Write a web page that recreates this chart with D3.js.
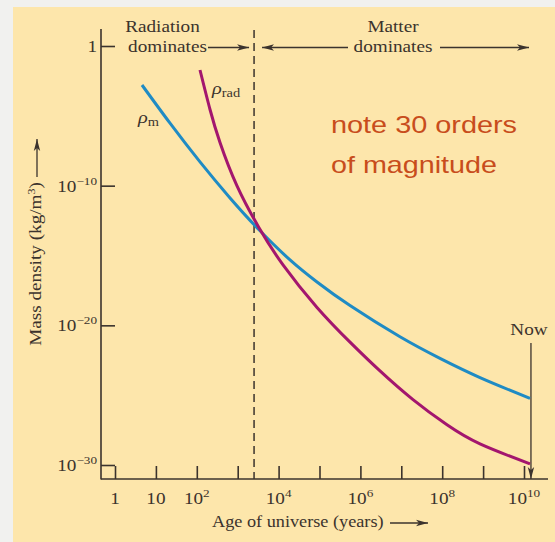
<!DOCTYPE html>
<html>
<head>
<meta charset="utf-8">
<script src="https://cdn.jsdelivr.net/npm/d3@7"></script>
<style>
  body { margin: 0; background: #f1f1ef; }
  svg { display: block; }
</style>
</head>
<body>
<svg id="chart" width="555" height="542"></svg>
<script>
// values, as log10 of age (years) and log10 of density (kg/m^3)
var matterAge = [0.66, 1.345, 2.078, 2.812, 3.521, 4.279, 4.939, 5.746, 6.968, 7.946, 8.924, 10.147];
var matterRho = [-2.792, -5.527, -8.298, -10.876, -13.16, -15.315, -16.897, -18.587, -20.82, -22.367, -23.742, -25.231];
var radAge = [2.078, 2.323, 2.567, 2.983, 3.521, 4.108, 4.939, 5.746, 6.479, 7.286, 8.117, 8.924, 10.147];
var radRho = [-1.718, -4.546, -6.909, -10.016, -13.009, -15.673, -18.716, -21.2, -23.262, -25.317, -27.121, -28.489, -29.92];

var xTickExp = [0, 1, 2, 3, 4, 5, 6, 7, 8, 9, 10];
var xLabelExp = [0, 1, 2, 4, 6, 8, 10];
var yTickExp = [0, -10, -20, -30];
var equalityAge = 3.4;   // log10 years, dashed line
var nowAge = 10.17;      // log10 years, "Now" arrow

var ink = "#3b332d";
var blue = "#1f8bc4";
var magenta = "#a3166e";
var serif = "'Liberation Serif', 'DejaVu Serif', serif";

var svg = d3.select("#chart");

// panel
svg.append("rect")
  .attr("x", 13).attr("y", 7)
  .attr("width", 555 - 13).attr("height", 542 - 7)
  .style("fill", "#fde6ab");

var defs = svg.append("defs");
defs.append("marker")
  .attr("id", "arrow")
  .attr("viewBox", "0 0 12 8")
  .attr("refX", 12).attr("refY", 4)
  .attr("markerWidth", 12).attr("markerHeight", 8)
  .attr("markerUnits", "userSpaceOnUse")
  .attr("orient", "auto")
  .append("path")
  .attr("d", "M0,0.8 L12,4 L0,7.2 L3,4 Z")
  .style("fill", ink);

var x = d3.scaleLog().domain([1, 1e10]).range([115, 524]);
var y = d3.scaleLog().domain([1e-30, 1]).range([465, 46]);
function pow10(e) { return Math.pow(10, e); }

var axisX0 = 101, axisY0 = 479;

// axis lines
svg.append("line")
  .attr("x1", axisX0).attr("x2", axisX0)
  .attr("y1", 29).attr("y2", axisY0 + 0.5)
  .style("stroke", ink).style("stroke-width", 1.6);
svg.append("line")
  .attr("x1", axisX0).attr("x2", 548)
  .attr("y1", axisY0).attr("y2", axisY0)
  .style("stroke", ink).style("stroke-width", 1.6);

// ticks through d3 axes
var gx = svg.append("g")
  .attr("transform", "translate(0," + axisY0 + ")")
  .call(d3.axisTop(x).tickValues(xTickExp.map(pow10)).tickSize(13).tickFormat(""));
var gy = svg.append("g")
  .attr("transform", "translate(" + axisX0 + ",0)")
  .call(d3.axisRight(y).tickValues(yTickExp.map(pow10)).tickSize(14).tickFormat(""));
[gx, gy].forEach(function(g) {
  g.select(".domain").remove();
  g.selectAll(".tick line").style("stroke", ink).style("stroke-width", 1.6);
});

// text helper: the figure's type is wider than the installed fonts, so stretch it
function label(px, py, anchor, size, rot) {
  var g = svg.append("g")
    .attr("transform", "translate(" + px + "," + py + ")" + (rot ? " rotate(" + rot + ")" : "") + " scale(1.2,1)");
  return g.append("text")
    .attr("text-anchor", anchor)
    .style("font-family", serif)
    .style("font-size", size + "px")
    .style("fill", ink);
}

function powLabel(t, e) {
  if (e === 0) { t.text("1"); return; }
  t.append("tspan").text("10");
  if (e !== 1) {
    t.append("tspan")
      .attr("dy", -7)
      .style("font-size", "11px")
      .text(String(e).replace("-", "\u2212"));
  }
}

xLabelExp.forEach(function(e) {
  powLabel(label(x(pow10(e)), 504, "middle", 16), e);
});
yTickExp.forEach(function(e) {
  powLabel(label(97, y(pow10(e)) + 6, "end", 16), e);
});

// axis titles
label(212, 527, "start", 16).text("Age of universe (years)").attr("textLength", 143).attr("lengthAdjust", "spacingAndGlyphs");
svg.append("line")
  .attr("x1", 390).attr("x2", 428).attr("y1", 523).attr("y2", 523)
  .style("stroke", ink).style("stroke-width", 1.3)
  .attr("marker-end", "url(#arrow)");

var yt = label(41, 264, "middle", 16, -90);
yt.append("tspan").text("Mass density (kg/m");
yt.append("tspan").attr("dy", -6).style("font-size", "10px").text("3");
yt.append("tspan").attr("dy", 6).text(")");
svg.append("line")
  .attr("x1", 37).attr("x2", 37).attr("y1", 177).attr("y2", 139)
  .style("stroke", ink).style("stroke-width", 1.3)
  .attr("marker-end", "url(#arrow)");

// radiation / matter eras
var xEq = x(pow10(equalityAge));
svg.append("line")
  .attr("x1", xEq).attr("x2", xEq).attr("y1", 30).attr("y2", axisY0)
  .style("stroke", ink).style("stroke-width", 1.5)
  .style("stroke-dasharray", "8,5");

label(162.5, 32, "middle", 16).text("Radiation");
label(167.5, 52, "middle", 16).text("dominates");
label(393, 32, "middle", 16).text("Matter");
label(393, 52, "middle", 16).text("dominates");

function arrow(x1, y1, x2, y2) {
  svg.append("line")
    .attr("x1", x1).attr("y1", y1).attr("x2", x2).attr("y2", y2)
    .style("stroke", ink).style("stroke-width", 1.3)
    .attr("marker-end", "url(#arrow)");
}
arrow(208, 47.5, xEq - 5, 47.5);
arrow(348, 47.5, xEq + 8, 47.5);
arrow(440, 47.5, 529, 47.5);

// now
var xNow = x(pow10(nowAge));
arrow(xNow, 343, xNow, axisY0);
label(529, 335, "middle", 16).text("Now");

// curves
var line = d3.line()
  .x(function(d) { return x(pow10(d[0])); })
  .y(function(d) { return y(pow10(d[1])); })
  .curve(d3.curveNatural);

svg.append("path")
  .datum(d3.zip(matterAge, matterRho))
  .attr("d", line)
  .style("fill", "none").style("stroke", blue).style("stroke-width", 3);
svg.append("path")
  .datum(d3.zip(radAge, radRho))
  .attr("d", line)
  .style("fill", "none").style("stroke", magenta).style("stroke-width", 3);

// curve labels
var lr = label(212, 94, "start", 17);
lr.append("tspan").style("font-style", "italic").text("\u03c1");
lr.append("tspan").attr("dy", 3).style("font-size", "12px").text("rad");
var lm = label(138, 123, "start", 17);
lm.append("tspan").style("font-style", "italic").text("\u03c1");
lm.append("tspan").attr("dy", 3).style("font-size", "12px").text("m");

// note
var note = ["note 30 orders", "of magnitude"];
var noteW = [186, 166];
note.forEach(function(s, i) {
  svg.append("text")
    .attr("x", 331).attr("y", 133 + i * 40)
    .attr("textLength", noteW[i]).attr("lengthAdjust", "spacingAndGlyphs")
    .style("font-family", "'Liberation Sans', Arial, sans-serif")
    .style("font-size", "24px")
    .style("fill", "#c84d1c")
    .text(s);
});
</script>
</body>
</html>
